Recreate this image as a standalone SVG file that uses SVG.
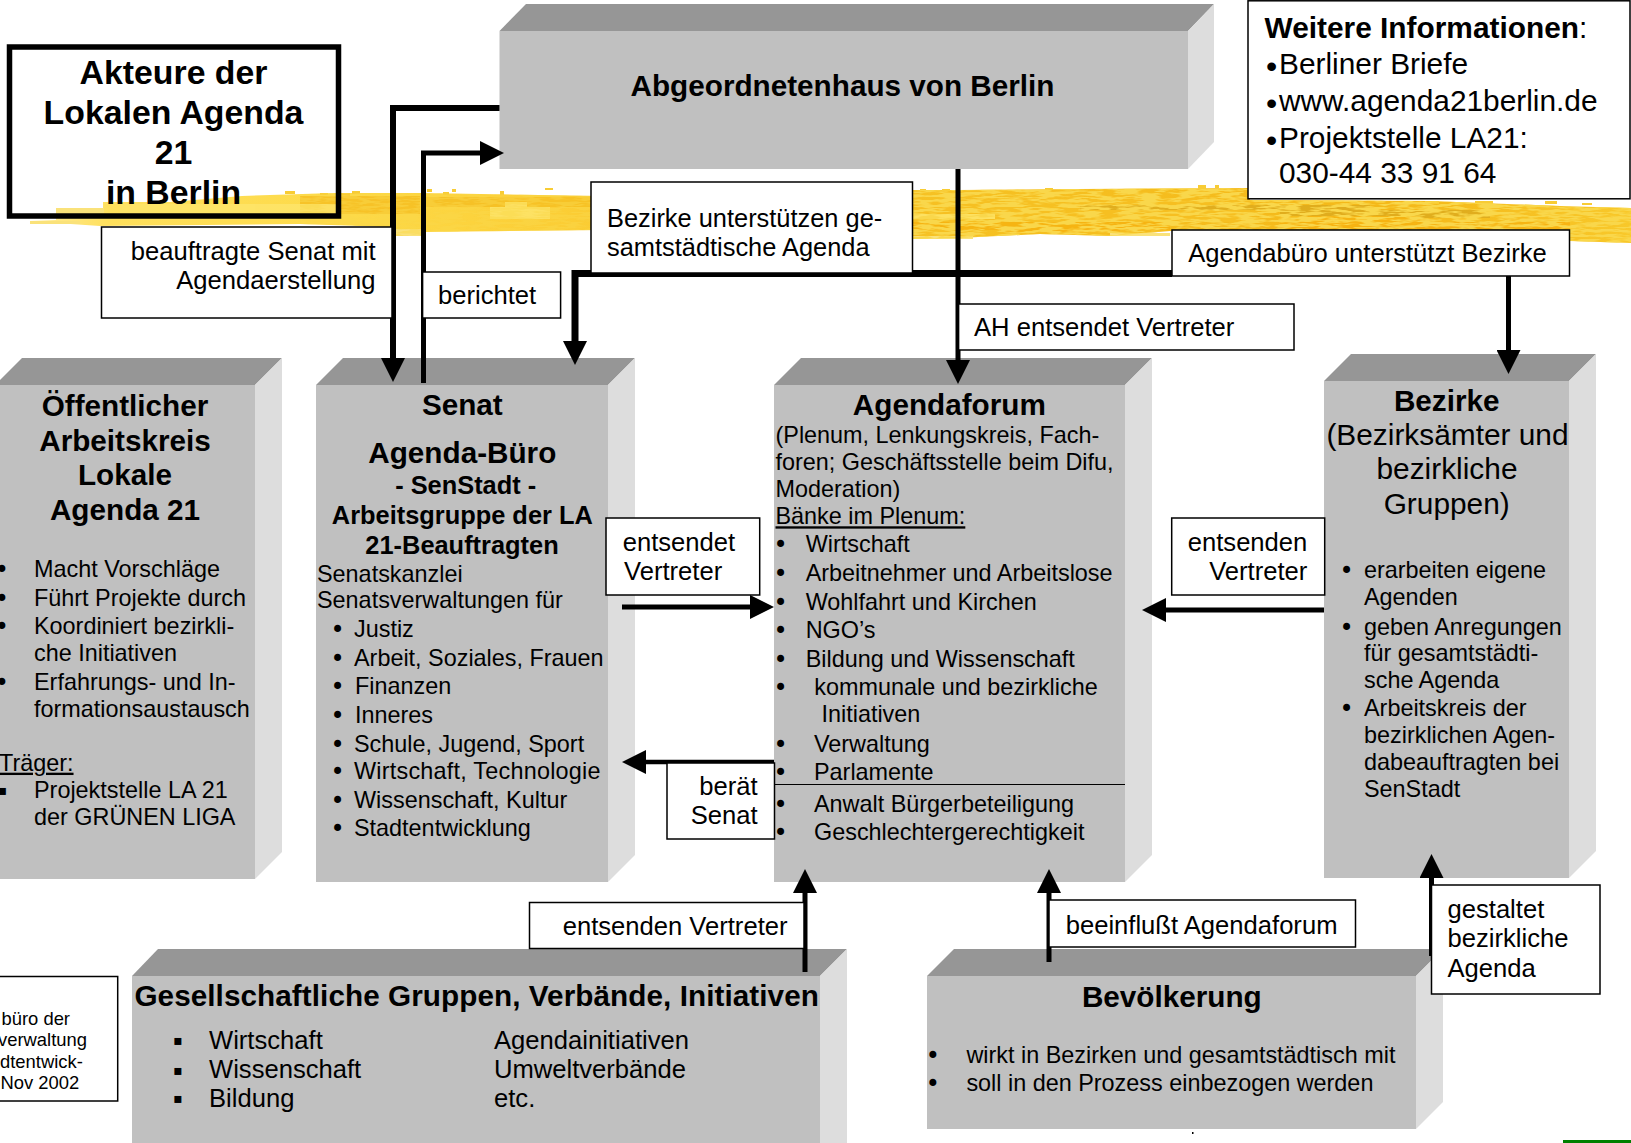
<svg xmlns="http://www.w3.org/2000/svg" width="1631" height="1143" viewBox="0 0 1631 1143">
<style>
text{font-family:"Liberation Sans",Arial,sans-serif;fill:#000}
.t{font-weight:bold;font-size:29.7px}
.c{text-anchor:middle}
.e{text-anchor:end}
.s{font-size:23.4px}
.l{font-size:25.6px}
.b{font-weight:bold;font-size:25.4px}
.r{font-size:29.85px}
.p{font-family:"DejaVu Sans",sans-serif;font-size:24px;transform:translate(-1.2px,1.5px)}
.q{font-family:"DejaVu Sans",sans-serif;font-size:14px;transform:translate(1.3px,-1.4px)}
.i{font-size:32px}
.u{text-decoration:underline}
.front{fill:#c0c0c0}
.top{fill:#969696}
.side{fill:#dddddd}
.lab{fill:#fff;stroke:#000;stroke-width:1.5}
.k{fill:none;stroke:#000;stroke-width:5;marker-end:url(#ah)}
.k6{fill:none;stroke:#000;stroke-width:6;marker-end:url(#ah)}
.n{fill:none;stroke:#000}
</style>
<defs>
<marker id="ah" markerUnits="userSpaceOnUse" markerWidth="24" markerHeight="24" refX="0" refY="12" orient="auto" viewBox="0 0 24 24"><path d="M0,0L24,12L0,24Z" fill="#000"/></marker>
<linearGradient id="bandg" gradientUnits="userSpaceOnUse" x1="30" y1="0" x2="1631" y2="0">
<stop offset="0" stop-color="#ffeb99"/><stop offset="0.05" stop-color="#ffe05c"/><stop offset="0.2" stop-color="#fdda48"/><stop offset="0.34" stop-color="#fbcd34"/><stop offset="0.55" stop-color="#f6c224"/><stop offset="0.85" stop-color="#f4b818"/><stop offset="1" stop-color="#f8c82a"/>
</linearGradient>
<clipPath id="bandclip"><path d="M30,221L56,220L56,208L103,208L103,202L170,202L242,196L335,193L420,193L600,196L600,230L425,232L425,236L393,236L393,227L300,224L100,226L56,223L30,224Z"/><path d="M905,190L958,190L1080,189L1250,188L1250,200L1431,201L1560,206L1631,208L1631,243L1570,241L1400,231L1170,231L1110,236L1040,234L958,238L913,239L905,239Z"/></clipPath>
<filter id="noise" x="0" y="0" width="1" height="1"><feTurbulence type="fractalNoise" baseFrequency="0.05 0.4" numOctaves="3" seed="4"/><feColorMatrix type="matrix" values="0 0 0 0 0.95  0 0 0 0 0.68  0 0 0 0 0.07  0 0 0 6 -2.4"/></filter>
</defs>

<g id="band">
<path fill="url(#bandg)" d="M30,221L56,220L56,208L103,208L103,202L170,202L242,196L335,193L420,193L600,196L600,230L425,232L425,236L393,236L393,227L300,224L100,226L56,223L30,224Z"/>
<path fill="url(#bandg)" d="M905,190L958,190L1080,189L1250,188L1250,200L1431,201L1560,206L1631,208L1631,243L1570,241L1400,231L1170,231L1110,236L1040,234L958,238L913,239L905,239Z"/>
<g fill="#f8cc34">
<rect x="285" y="191" width="10" height="3"/><rect x="320" y="193" width="8" height="2"/><rect x="336" y="193" width="14" height="3"/><rect x="352" y="191" width="8" height="3"/>
<rect x="427" y="189" width="5" height="3"/><rect x="443" y="192" width="6" height="3"/><rect x="452" y="189" width="4" height="3"/><rect x="500" y="191" width="4" height="4"/><rect x="545" y="188" width="8" height="2"/>
<rect x="920" y="189" width="6" height="2"/><rect x="942" y="189" width="8" height="2"/><rect x="1045" y="188" width="8" height="2"/><rect x="1198" y="185" width="8" height="4"/><rect x="1215" y="185" width="4" height="3"/>
<rect x="1425" y="201" width="14" height="3"/><rect x="1475" y="201" width="18" height="3"/><rect x="1545" y="201" width="12" height="3"/><rect x="1582" y="203" width="10" height="2"/>
</g>
<g fill="#fae27a">
<rect x="56" y="208" width="48" height="5"/><rect x="30" y="221" width="50" height="3"/><rect x="393" y="229" width="32" height="7"/><rect x="913" y="236" width="60" height="3"/><rect x="1110" y="233" width="60" height="3"/>
</g>
<g fill="#f6bf22" opacity="0.85">
<rect x="300" y="196" width="120" height="18"/><rect x="425" y="197" width="170" height="10"/><rect x="905" y="200" width="345" height="22"/>
</g>
<g fill="#fee468" opacity="0.9">
<rect x="490" y="207" width="60" height="12"/><rect x="505" y="202" width="22" height="8"/><rect x="120" y="204" width="220" height="10"/><rect x="905" y="214" width="90" height="5"/>
</g>
<g fill="#dcaa1e" opacity="0.8">
<rect x="1080" y="205" width="290" height="5"/><rect x="1280" y="210" width="200" height="6"/><rect x="1380" y="213" width="110" height="5"/>
</g>
<g fill="#f7b311" opacity="0.9">
<rect x="905" y="222" width="265" height="8"/><rect x="1280" y="222" width="290" height="7"/><rect x="1000" y="228" width="120" height="4"/><rect x="1300" y="216" width="120" height="6"/>
</g>
<g clip-path="url(#bandclip)"><rect x="905" y="180" width="726" height="70" filter="url(#noise)"/><rect x="300" y="180" width="300" height="70" filter="url(#noise)" opacity="0.5"/></g>
</g>

<g id="titel">
<rect x="9.5" y="47" width="329" height="169" fill="none" stroke="#000" stroke-width="5.5"/>
<text class="c" style="font-weight:bold;font-size:33.8px"><tspan x="173.5" y="84.3">Akteure der</tspan><tspan x="173.5" y="124.3">Lokalen Agenda</tspan><tspan x="173.5" y="164.3">21</tspan><tspan x="173.5" y="204.3">in Berlin</tspan></text>
</g>

<g id="abgeordnetenhaus">
<path class="top" d="M499.5,31L526,4H1214L1188,31Z"/>
<path class="side" d="M1188,31L1214,4V142L1188,169Z"/>
<rect class="front" x="499.5" y="31" width="688.5" height="138"/>
<text class="t c" x="842.5" y="96">Abgeordnetenhaus von Berlin</text>
</g>

<g id="oeffentlicher-arbeitskreis">
<path class="top" d="M-5,385L22,358H282L255,385Z"/>
<path class="side" d="M255,385L282,358V852L255,879Z"/>
<rect class="front" x="-5" y="385" width="260" height="494"/>
<text class="t c"><tspan x="125" y="416">Öffentlicher</tspan><tspan x="125" y="450.8">Arbeitskreis</tspan><tspan x="125" y="485">Lokale</tspan><tspan x="125" y="519.8">Agenda 21</tspan></text>
<text class="p"><tspan x="-4" y="576.2">•</tspan><tspan x="-4" y="605.5">•</tspan><tspan x="-4" y="633.5">•</tspan><tspan x="-4" y="689.5">•</tspan></text>
<text class="q"><tspan x="-3.5" y="796">▪</tspan></text>
<text class="s"><tspan x="34" y="576.7">Macht Vorschläge</tspan><tspan x="34" y="606">Führt Projekte durch</tspan><tspan x="34" y="634">Koordiniert bezirkli-</tspan><tspan x="34" y="661">che Initiativen</tspan><tspan x="34" y="690">Erfahrungs- und In-</tspan><tspan x="34" y="716.7">formationsaustausch</tspan><tspan x="-1" y="770.7" class="u">Träger:</tspan><tspan x="34" y="798.3">Projektstelle LA 21</tspan><tspan x="34" y="825.3">der GRÜNEN LIGA</tspan></text>
</g>

<g id="senat">
<path class="top" d="M316,385L343,358H635L608,385Z"/>
<path class="side" d="M608,385L635,358V855L608,882Z"/>
<rect class="front" x="316" y="385" width="292" height="497"/>
<text class="t c"><tspan x="462.3" y="415.3">Senat</tspan><tspan x="462.3" y="463.3">Agenda-Büro</tspan></text>
<text class="b c"><tspan x="465.7" y="494.3">- SenStadt -</tspan><tspan x="462.3" y="524.3">Arbeitsgruppe der LA</tspan><tspan x="462" y="554.3">21-Beauftragten</tspan></text>
<text class="p"><tspan x="331.8" y="636.2">•</tspan><tspan x="331.8" y="665.5">•</tspan><tspan x="331.8" y="693.5">•</tspan><tspan x="331.8" y="722.2">•</tspan><tspan x="331.8" y="751.2">•</tspan><tspan x="331.8" y="778.5">•</tspan><tspan x="331.8" y="807.8">•</tspan><tspan x="331.8" y="835.2">•</tspan></text>
<text class="s"><tspan x="317" y="581.7">Senatskanzlei</tspan><tspan x="317" y="607.7">Senatsverwaltungen für</tspan><tspan x="354" y="636.7">Justiz</tspan><tspan x="354" y="666">Arbeit, Soziales, Frauen</tspan><tspan x="355" y="694">Finanzen</tspan><tspan x="355" y="722.7">Inneres</tspan><tspan x="354" y="751.7">Schule, Jugend, Sport</tspan><tspan x="354" y="779" textLength="246.5">Wirtschaft, Technologie</tspan><tspan x="354" y="808.3">Wissenschaft, Kultur</tspan><tspan x="354" y="835.7">Stadtentwicklung</tspan></text>
</g>

<g id="agendaforum">
<path class="top" d="M774,385L801,358H1152L1125,385Z"/>
<path class="side" d="M1125,385L1152,358V855L1125,882Z"/>
<rect class="front" x="774" y="385" width="351" height="497"/>
<path class="n" d="M774.5,784.5H1125"/>
<text class="t c" x="949.3" y="415.3">Agendaforum</text>
<text class="p"><tspan x="774.8" y="551.2">•</tspan><tspan x="774.8" y="580.2">•</tspan><tspan x="774.8" y="609.5">•</tspan><tspan x="774.8" y="637.2">•</tspan><tspan x="774.8" y="666.2">•</tspan><tspan x="774.8" y="694.5">•</tspan><tspan x="774.8" y="751.2">•</tspan><tspan x="774.8" y="779.2">•</tspan><tspan x="774.8" y="811.2">•</tspan><tspan x="774.8" y="839.2">•</tspan></text>
<text class="s"><tspan x="775.5" y="442.7">(Plenum, Lenkungskreis, Fach-</tspan><tspan x="775.5" y="470.3">foren; Geschäftsstelle beim Difu,</tspan><tspan x="775.5" y="496.7">Moderation)</tspan><tspan x="775.5" y="524.3" class="u">Bänke im Plenum:</tspan><tspan x="805.7" y="551.7">Wirtschaft</tspan><tspan x="805.7" y="580.7">Arbeitnehmer und Arbeitslose</tspan><tspan x="805.7" y="610">Wohlfahrt und Kirchen</tspan><tspan x="805.7" y="637.7">NGO’s</tspan><tspan x="805.7" y="666.7">Bildung und Wissenschaft</tspan><tspan x="814.3" y="695">kommunale und bezirkliche</tspan><tspan x="821.5" y="721.7">Initiativen</tspan><tspan x="814" y="751.7">Verwaltung</tspan><tspan x="814" y="779.7">Parlamente</tspan><tspan x="814" y="811.7">Anwalt Bürgerbeteiligung</tspan><tspan x="814" y="839.7">Geschlechtergerechtigkeit</tspan></text>
</g>

<g id="bezirke">
<path class="top" d="M1324,381L1351,354H1596L1569,381Z"/>
<path class="side" d="M1569,381L1596,354V851L1569,878Z"/>
<rect class="front" x="1324" y="381" width="245" height="497"/>
<text class="t c" x="1446.7" y="410.7">Bezirke</text>
<text class="r c"><tspan x="1447.5" y="444.6">(Bezirksämter und</tspan><tspan x="1447" y="478.6">bezirkliche</tspan><tspan x="1446.7" y="513.5">Gruppen)</tspan></text>
<text class="p"><tspan x="1340.8" y="577">•</tspan><tspan x="1340.8" y="634.5">•</tspan><tspan x="1340.8" y="715.9">•</tspan></text>
<text class="s"><tspan x="1364" y="577.5">erarbeiten eigene</tspan><tspan x="1364" y="604.6">Agenden</tspan><tspan x="1364" y="635">geben Anregungen</tspan><tspan x="1364" y="660.7">für gesamtstädti-</tspan><tspan x="1364" y="687.5">sche Agenda</tspan><tspan x="1364" y="716.4">Arbeitskreis der</tspan><tspan x="1364" y="742.9">bezirklichen Agen-</tspan><tspan x="1364" y="769.6">dabeauftragten bei</tspan><tspan x="1364" y="797.4">SenStadt</tspan></text>
</g>

<g id="gesellschaftliche-gruppen">
<path class="top" d="M132,976L158,949H847L820,976Z"/>
<path class="side" d="M820,976L847,949V1143H820Z"/>
<rect class="front" x="132" y="976" width="688" height="167"/>
<text class="t" x="134.4" y="1006" textLength="684.5">Gesellschaftliche Gruppen, Verbände, Initiativen</text>
<text class="q"><tspan x="172" y="1046">▪</tspan><tspan x="172" y="1076">▪</tspan><tspan x="172" y="1104.5">▪</tspan></text>
<text class="l"><tspan x="209" y="1049.3">Wirtschaft</tspan><tspan x="494">Agendainitiativen</tspan><tspan x="209" y="1078.3">Wissenschaft</tspan><tspan x="494">Umweltverbände</tspan><tspan x="209" y="1106.7">Bildung</tspan><tspan x="494">etc.</tspan></text>
</g>

<g id="bevoelkerung">
<path class="top" d="M927,976L954,949H1443L1416,976Z"/>
<path class="side" d="M1416,976L1443,949V1102L1416,1129Z"/>
<rect class="front" x="927" y="976" width="489" height="153"/>
<text class="t c" x="1171.8" y="1006.5">Bevölkerung</text>
<text class="p"><tspan x="927" y="1062.2">•</tspan><tspan x="927" y="1090.2">•</tspan></text>
<text class="s"><tspan x="966.4" y="1062.7">wirkt in Bezirken und gesamtstädtisch mit</tspan><tspan x="966.4" y="1090.7">soll in den Prozess einbezogen werden</tspan></text>
</g>

<g id="connectors">
<path class="k6" d="M499.5,108H393V358"/>
<path class="k" d="M423.5,383V153H480"/>
<path class="k6" d="M1172,273.5H575V341" style="stroke-width:7"/>
<path class="k" d="M1508.5,276V350"/>
<path class="k" d="M958,169V360"/>
<path class="k" d="M622,607H750"/>
<path class="k" d="M1324,610H1166"/>
<path class="k" d="M774,762H646" style="stroke-width:4.5"/>
<path class="k" d="M805,972V893"/>
<path class="k" d="M1049,962V893"/>
<path class="k" d="M1431.5,956V878"/>
</g>

<g id="label-beauftragte"><rect class="lab" x="101.5" y="227" width="290.5" height="91"/><text class="l e"><tspan x="375.5" y="259.8">beauftragte Senat mit</tspan><tspan x="375.5" y="288.5">Agendaerstellung</tspan></text></g>
<g id="label-berichtet"><rect class="lab" x="422.6" y="272" width="138" height="46"/><text class="l" x="438" y="304.3">berichtet</text></g>
<g id="label-bezirke-unterstuetzen"><rect class="lab" x="591" y="182" width="321.5" height="91"/><text class="l" style="font-size:25.4px"><tspan x="607" y="226.7">Bezirke unterstützen ge-</tspan><tspan x="607" y="255.7">samtstädtische Agenda</tspan></text></g>
<g id="label-agendabuero"><rect class="lab" x="1172" y="230" width="397.5" height="46"/><text class="l" x="1188.3" y="261.7">Agendabüro unterstützt Bezirke</text></g>
<g id="label-ah"><rect class="lab" x="958.6" y="304" width="335.4" height="46"/><text class="l" x="974" y="335.7">AH entsendet Vertreter</text></g>
<g id="label-entsendet"><rect class="lab" x="606" y="518" width="153.7" height="77"/><text class="l"><tspan x="622.7" y="551">entsendet</tspan><tspan x="624" y="580.3">Vertreter</tspan></text></g>
<g id="label-entsenden-rechts"><rect class="lab" x="1171.7" y="518" width="153" height="77"/><text class="l e"><tspan x="1307.3" y="550.7">entsenden</tspan><tspan x="1307.3" y="580">Vertreter</tspan></text></g>
<g id="label-beraet"><rect class="lab" x="667" y="763" width="107.5" height="76"/><text class="l e"><tspan x="757.6" y="795">berät</tspan><tspan x="757.6" y="824">Senat</tspan></text></g>
<g id="label-entsenden-unten"><rect class="lab" x="529.5" y="902.5" width="274.5" height="46"/><text class="l" x="562.7" y="935">entsenden Vertreter</text></g>
<g id="label-beeinflusst"><rect class="lab" x="1049" y="900" width="306.5" height="47"/><text class="l" x="1065.7" y="933.7">beeinflußt Agendaforum</text></g>
<g id="label-gestaltet"><rect class="lab" x="1431.5" y="885" width="168.5" height="109"/><text class="l"><tspan x="1447.5" y="918.3">gestaltet</tspan><tspan x="1447.5" y="946.7">bezirkliche</tspan><tspan x="1447.5" y="976.8">Agenda</tspan></text></g>

<g id="weitere-informationen"><rect class="lab" x="1248" y="0.8" width="382" height="198"/>
<text class="i"><tspan x="1266" y="76.6">•</tspan><tspan x="1266" y="113.6">•</tspan><tspan x="1266" y="150.6">•</tspan></text>
<text class="r"><tspan x="1264.5" y="38.3" font-weight="bold">Weitere Informationen</tspan><tspan>:</tspan><tspan x="1279" y="74.3">Berliner Briefe</tspan><tspan x="1279" y="111.3">www.agenda21berlin.de</tspan><tspan x="1279" y="148.3">Projektstelle LA21:</tspan><tspan x="1279" y="182.7">030-44 33 91 64</tspan></text></g>

<g id="label-buero"><rect class="lab" x="-5" y="976.5" width="122.7" height="124.5"/><text style="font-size:18.4px"><tspan x="1.5" y="1025">büro der</tspan><tspan x="-2" y="1046">verwaltung</tspan><tspan x="0" y="1067.5">dtentwick-</tspan><tspan x="0.5" y="1089">Nov 2002</tspan></text></g>

<g id="marks"><rect x="1192" y="1132" width="1.5" height="2" fill="#000"/><rect x="1563" y="1140" width="68" height="3" fill="#008000"/></g>
</svg>
